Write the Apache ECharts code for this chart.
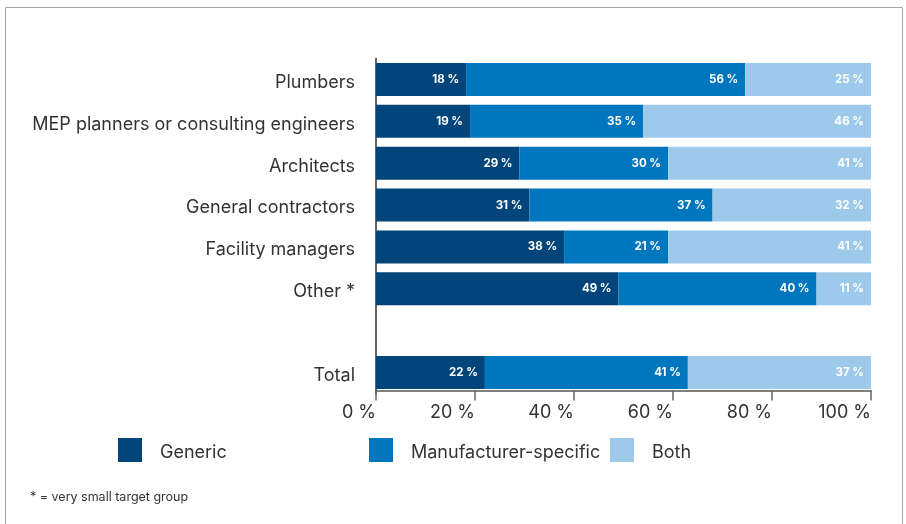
<!DOCTYPE html>
<html lang="en">

<head>
    <meta charset="UTF-8">
    <script src="https://cdn.jsdelivr.net/npm/echarts@6.0.0/dist/echarts.min.js"></script>
    <title>Document</title>
    <style>
        html, body { margin: 0; padding: 0; background: #fff; }
        #chart1 { width: 906px; height: 524px; }
    </style>
</head>

<body>
    <div id="chart1"></div>

    <script type="text/javascript">
        // categories, top to bottom ('' is the blank gap row)
        var groups = ['Plumbers', 'MEP planners or consulting engineers', 'Architects', 'General contractors',
            'Facility managers', 'Other *', '', 'Total'];
        var generic = [18.2, 19, 29, 31, 38, 49, '-', 22];
        var manufacturer = [56.4, 35, 30, 37, 21, 40, '-', 41];
        var both = [25.4, 46, 41, 32, 41, 11, '-', 37];
        var xTicks = [0, 20, 40, 60, 80, 100];

        var colors = ['#02457a', '#0076bf', '#9dcaeb'];
        var font = 'Inter, Roboto, sans-serif';

        var chart1 = echarts.init(document.getElementById('chart1'));

        // text nudged down a few px, like the original
        var lowText = { t: { fontFamily: font, fontSize: 18, color: '#333', padding: [6, 0, 0, 0] } };

        function barSeries(name, data, color) {
            return {
                name: name,
                type: 'bar',
                stack: 'share',
                barWidth: 33,
                itemStyle: { color: color },
                label: {
                    show: true,
                    position: 'insideRight',
                    distance: 7,
                    color: '#fff',
                    fontFamily: font,
                    fontWeight: 'bold',
                    fontSize: 11.5,
                    formatter: function (p) { return Math.round(p.value) + ' %'; }
                },
                data: data
            };
        }

        function legendAt(name, left) {
            return {
                data: [name],
                left: left,
                top: 438,
                padding: 0,
                itemWidth: 24,
                itemHeight: 24,
                icon: 'rect',
                selectedMode: false,
                formatter: '{t|{name}}',
                textStyle: { fontFamily: font, fontSize: 18, color: '#333', padding: [0, 0, 0, 13], rich: lowText }
            };
        }

        var option1 = {
            animation: false,
            grid: { left: 376, right: 35, top: 58.5, height: 335 },
            legend: [
                legendAt('Generic', 118),
                legendAt('Manufacturer-specific', 369),
                legendAt('Both', 610)
            ],
            graphic: [
                {
                    type: 'rect',
                    shape: { x: 5.5, y: 7.5, width: 897, height: 600 },
                    style: { fill: 'none', stroke: '#a6a6a6', lineWidth: 1 }
                },
                {
                    type: 'text',
                    left: 30,
                    top: 491,
                    style: { text: '* = very small target group', fontFamily: font, fontSize: 12.5, fill: '#333' }
                }
            ],
            xAxis: {
                type: 'value',
                min: 0,
                max: 100,
                interval: 20,
                offset: -3,
                splitLine: { show: false },
                axisLine: { show: true, lineStyle: { color: '#555', width: 1.5 } },
                axisTick: { show: true, length: 10, lineStyle: { color: '#666', width: 1.5 } },
                axisLabel: {
                    margin: 13,
                    align: 'right',
                    fontFamily: font,
                    fontSize: 18,
                    color: '#333',
                    formatter: function (v) { return xTicks.indexOf(v) >= 0 ? v + ' %' : ''; }
                }
            },
            yAxis: {
                type: 'category',
                inverse: true,
                data: groups,
                axisLine: { show: true, lineStyle: { color: '#333', width: 1.5 } },
                axisTick: { show: false },
                axisLabel: {
                    margin: 21,
                    fontFamily: font,
                    fontSize: 18,
                    color: '#333',
                    formatter: function (v) { return v ? '{t|' + v + '}' : ''; },
                    rich: lowText
                }
            },
            series: [
                barSeries('Generic', generic, colors[0]),
                barSeries('Manufacturer-specific', manufacturer, colors[1]),
                barSeries('Both', both, colors[2])
            ]
        };
        chart1.setOption(option1);
    </script>
</body>

</html>
